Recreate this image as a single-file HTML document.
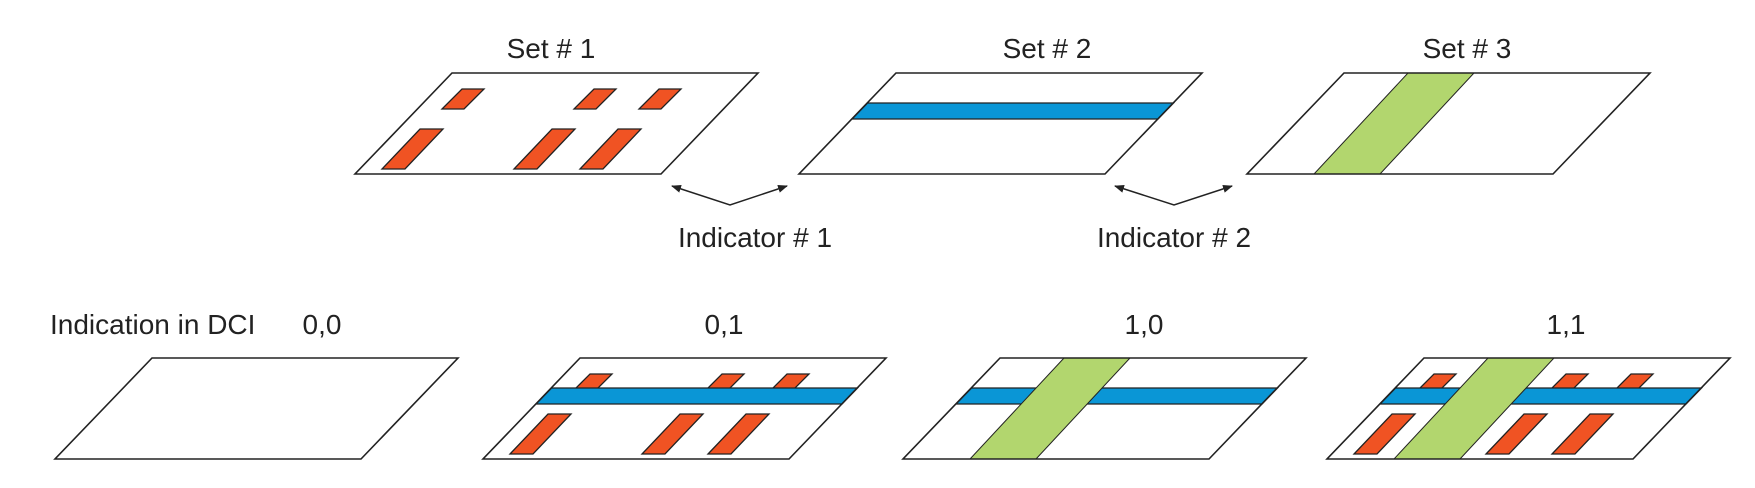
<!DOCTYPE html>
<html><head><meta charset="utf-8"><style>
html,body{margin:0;padding:0;background:#fff;}
svg{display:block;}
text{font-family:"Liberation Sans",sans-serif;font-size:28px;fill:#222;}
</style></head><body>
<svg width="1755" height="488" viewBox="0 0 1755 488" xmlns="http://www.w3.org/2000/svg">
<defs>
<marker id="ah" viewBox="0 0 10 10" refX="9" refY="5" markerWidth="10" markerHeight="10" orient="auto-start-reverse" markerUnits="userSpaceOnUse">
<path d="M0,1 L10,5 L0,9 z" fill="#222"/>
</marker>
<polygon id="frame" points="0,0 306,0 403,-101 97,-101"/>
<g id="reds" fill="#f05323" stroke="#222" stroke-width="1.3">
<polygon points="87,-65 109,-65 129,-85 107,-85"/>
<polygon points="219,-65 241,-65 261,-85 239,-85"/>
<polygon points="284,-65 306,-65 326,-85 304,-85"/>
<polygon points="27,-5 50,-5 88,-45 65,-45"/>
<polygon points="159,-5 182,-5 220,-45 197,-45"/>
<polygon points="225,-5 248,-5 286,-45 263,-45"/>
</g>
<polygon id="blue" points="53,-55 359,-55 374.5,-71 68.5,-71" fill="#0a96d6" stroke="#222" stroke-width="1.3"/>
<polygon id="green" points="67,0 133,0 227,-101 161,-101" fill="#b2d66e" stroke="#222" stroke-width="1"/>
</defs>

<g transform="translate(355,174)">
<use href="#frame" fill="#fff"/>
<use href="#reds"/>
<use href="#frame" fill="none" stroke="#222" stroke-width="1.6"/>
</g>
<g transform="translate(799,174)">
<use href="#frame" fill="#fff"/>
<use href="#blue"/>
<use href="#frame" fill="none" stroke="#222" stroke-width="1.6"/>
</g>
<g transform="translate(1247,174)">
<use href="#frame" fill="#fff"/>
<use href="#green"/>
<use href="#frame" fill="none" stroke="#222" stroke-width="1.6"/>
</g>

<g transform="translate(55,459)">
<use href="#frame" fill="#fff" stroke="#222" stroke-width="1.6"/>
</g>
<g transform="translate(483,459)">
<use href="#frame" fill="#fff"/>
<use href="#reds"/>
<use href="#blue"/>
<use href="#frame" fill="none" stroke="#222" stroke-width="1.6"/>
</g>
<g transform="translate(903,459)">
<use href="#frame" fill="#fff"/>
<use href="#blue"/>
<use href="#green"/>
<use href="#frame" fill="none" stroke="#222" stroke-width="1.6"/>
</g>
<g transform="translate(1327,459)">
<use href="#frame" fill="#fff"/>
<use href="#reds"/>
<use href="#blue"/>
<use href="#green"/>
<use href="#frame" fill="none" stroke="#222" stroke-width="1.6"/>
</g>

<polyline points="672,186 730,205 787,186" fill="none" stroke="#222" stroke-width="1.5" marker-start="url(#ah)" marker-end="url(#ah)"/>
<polyline points="1115,186 1174,205 1232,186" fill="none" stroke="#222" stroke-width="1.5" marker-start="url(#ah)" marker-end="url(#ah)"/>

<text x="551" y="58" text-anchor="middle">Set # 1</text>
<text x="1047" y="58" text-anchor="middle">Set # 2</text>
<text x="1467" y="58" text-anchor="middle">Set # 3</text>
<text x="755" y="247" text-anchor="middle">Indicator # 1</text>
<text x="1174" y="247" text-anchor="middle">Indicator # 2</text>
<text x="50" y="334">Indication in DCI</text>
<text x="322" y="334" text-anchor="middle">0,0</text>
<text x="724" y="334" text-anchor="middle">0,1</text>
<text x="1144" y="334" text-anchor="middle">1,0</text>
<text x="1566" y="334" text-anchor="middle">1,1</text>
</svg>
</body></html>
